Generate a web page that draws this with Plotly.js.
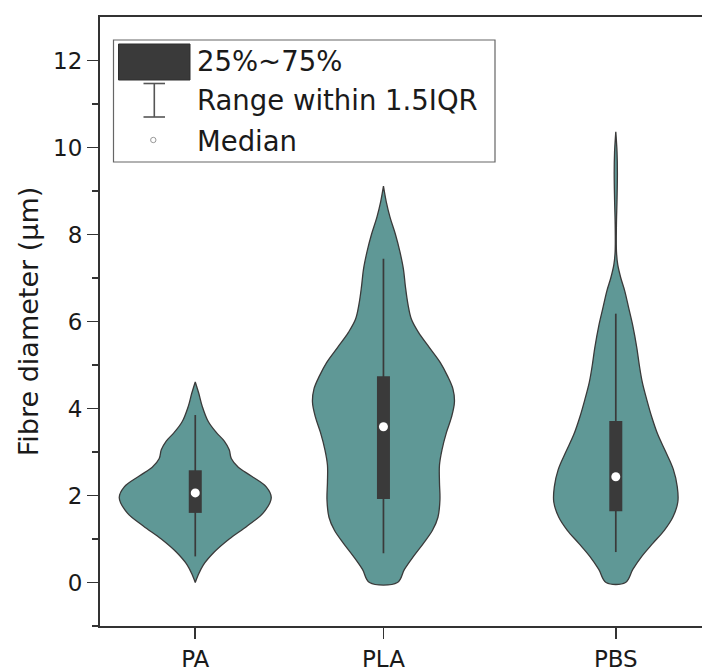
<!DOCTYPE html>
<html><head><meta charset="utf-8">
<script src="https://cdn.plot.ly/plotly-3.0.1.min.js"></script>
<style>html,body{margin:0;padding:0;background:#fff}#chart{width:702px;height:668px}</style>
</head><body><div id="chart"></div>
<script>
// ---------------- data ----------------
const categories = ['PA', 'PLA', 'PBS'];

// violin outlines: fibre diameter (µm) and relative density (1 = widest point of PA)
const paY       = [0, 0.15, 0.40, 0.70, 1.00, 1.30, 1.60, 1.95, 2.20, 2.45, 2.65, 2.85, 3.05, 3.25, 3.45, 3.70, 4.05, 4.35, 4.61];
const paDensity = [0, 0.033, 0.105, 0.25, 0.447, 0.684, 0.895, 1.0, 0.934, 0.737, 0.566, 0.474, 0.447, 0.382, 0.276, 0.171, 0.092, 0.046, 0];

const plaY       = [0, 0.3, 0.6, 0.9, 1.2, 1.5, 1.9, 2.3, 2.7, 3.05, 3.45, 3.8, 4.15, 4.45, 4.75, 5.05, 5.4, 5.75, 6.05, 6.4, 6.8, 7.2, 7.6, 8.0, 8.4, 8.75, 9.11];
const plaDensity = [0.184, 0.276, 0.395, 0.526, 0.645, 0.717, 0.743, 0.737, 0.737, 0.770, 0.829, 0.895, 0.934, 0.914, 0.842, 0.75, 0.605, 0.461, 0.368, 0.322, 0.289, 0.263, 0.217, 0.158, 0.086, 0.037, 0];

const pbsY       = [0, 0.3, 0.6, 0.9, 1.2, 1.5, 1.85, 2.2, 2.6, 3.0, 3.4, 3.8, 4.2, 4.6, 5.0, 5.4, 5.9, 6.3, 6.7, 7.0, 7.3, 7.6, 8.2, 8.8, 9.4, 9.9, 10.36];
const pbsDensity = [0.128, 0.224, 0.342, 0.487, 0.638, 0.75, 0.816, 0.809, 0.757, 0.658, 0.553, 0.474, 0.408, 0.349, 0.309, 0.276, 0.224, 0.171, 0.118, 0.066, 0.026, 0.009, 0.008, 0.016, 0.021, 0.016, 0];

// box statistics
const q1            = [1.60, 1.92, 1.64];
const medians       = [2.06, 3.58, 2.43];
const q3            = [2.58, 4.74, 3.71];
const lowerWhiskers = [0.60, 0.67, 0.70];
const upperWhiskers = [3.85, 7.44, 6.18];

const yTickVals = [0, 2, 4, 6, 8, 10, 12];
const yMinorVals = [-1, 1, 3, 5, 7, 9, 11];
const legendLabels = ['25%~75%', 'Range within 1.5IQR', 'Median'];
const yTitle = 'Fibre diameter (μm)';

// ---------------- layout / style ----------------
const W = 702, H = 668;
const M = {l: 100, r: 0, t: 17, b: 42};
const catPos = [1, 1.81, 2.81];          // horizontal centres of the groups
const xRange = [0.59, 3.181];
const yRange = [-1, 13];
const pxPerX = (W - M.l - M.r) / (xRange[1] - xRange[0]);
const violinMaxHalf = 76 / pxPerX;       // half width for density 1
const FONT = 'DejaVu Sans';
const violinFill = '#5f9896';
const outline = '#3a3a3a';
const boxColor = '#3a3a3a';

const violinSets = [[paY, paDensity], [plaY, plaDensity], [pbsY, pbsDensity]];

const traces = [];
violinSets.forEach(([ys, ds], i) => {
  const c = catPos[i];
  const xs = [], yy = [];
  for (let k = 0; k < ys.length; k++) { xs.push(c + ds[k] * violinMaxHalf); yy.push(ys[k]); }
  for (let k = ys.length - 1; k >= 0; k--) { xs.push(c - ds[k] * violinMaxHalf); yy.push(ys[k]); }
  xs.push(xs[0]); yy.push(yy[0]);
  traces.push({
    type: 'scatter', mode: 'lines', x: xs, y: yy,
    fill: 'toself', fillcolor: violinFill,
    line: {color: outline, width: 1.3, shape: 'spline', smoothing: 1},
    hoverinfo: 'skip', showlegend: false, name: categories[i]
  });
});

// whiskers (range within 1.5 IQR)
const wx = [], wy = [];
catPos.forEach((c, i) => { wx.push(c, c, null); wy.push(lowerWhiskers[i], upperWhiskers[i], null); });
traces.push({type: 'scatter', mode: 'lines', x: wx, y: wy,
  line: {color: boxColor, width: 1.7}, hoverinfo: 'skip', showlegend: false});

// 25%~75% boxes as thick bars
const bx = [], by = [];
catPos.forEach((c, i) => { bx.push(c, c, null); by.push(q1[i], q3[i], null); });
traces.push({type: 'scatter', mode: 'lines', x: bx, y: by,
  line: {color: boxColor, width: 13}, hoverinfo: 'skip', showlegend: false});

// medians
traces.push({
  type: 'scatter', mode: 'markers', x: catPos, y: medians,
  marker: {color: '#ffffff', size: 9, line: {width: 0}},
  hoverinfo: 'skip', showlegend: false
});

// legend drawn with shapes/annotations in pixel-derived paper coords
const px = v => (v - M.l) / (W - M.l - M.r);
const py = v => (H - M.b - v) / (H - M.t - M.b);

const shapes = [
  {type: 'rect', xref: 'paper', yref: 'paper', x0: px(113.5), x1: px(495), y0: py(40), y1: py(162),
   line: {color: '#666', width: 1.2}, fillcolor: '#fff', layer: 'above'},
  {type: 'rect', xref: 'paper', yref: 'paper', x0: px(118.5), x1: px(190), y0: py(44), y1: py(80),
   line: {color: '#2e2e2e', width: 1}, fillcolor: '#3a3a3a', layer: 'above'},
  {type: 'line', xref: 'paper', yref: 'paper', x0: px(154.3), x1: px(154.3), y0: py(83.5), y1: py(117),
   line: {color: '#555', width: 1.6}, layer: 'above'},
  {type: 'line', xref: 'paper', yref: 'paper', x0: px(143.5), x1: px(165), y0: py(83.5), y1: py(83.5),
   line: {color: '#555', width: 1.6}, layer: 'above'},
  {type: 'line', xref: 'paper', yref: 'paper', x0: px(143.5), x1: px(165), y0: py(117), y1: py(117),
   line: {color: '#555', width: 1.6}, layer: 'above'},
  {type: 'circle', xref: 'paper', yref: 'paper', x0: px(150.6), x1: px(156), y0: py(137.3), y1: py(142.7),
   line: {color: '#999', width: 1}, fillcolor: '#fff', layer: 'above'}
];

const legendY = [61, 100, 141];
const annotations = legendLabels.map((t, i) => ({
  text: t, xref: 'paper', yref: 'paper', x: px(195), y: py(legendY[i]),
  xanchor: 'left', yanchor: 'middle', showarrow: false,
  font: {family: FONT, size: 27.5, color: '#1a1a1a'}
}));

const axisCommon = {
  showline: true, linecolor: '#333', linewidth: 2,
  ticks: 'outside', ticklen: 11, tickwidth: 1.6, tickcolor: '#333',
  showgrid: false, zeroline: false,
  tickfont: {family: FONT, size: 23, color: '#1a1a1a'}
};

const layout = {
  width: W, height: H, margin: M,
  paper_bgcolor: '#fff', plot_bgcolor: '#fff',
  showlegend: false, hovermode: false,
  xaxis: Object.assign({}, axisCommon, {
    range: xRange, tickmode: 'array', tickvals: catPos, ticktext: categories, mirror: true
  }),
  yaxis: Object.assign({}, axisCommon, {
    range: yRange, tickmode: 'array', tickvals: yTickVals,
    minor: {ticks: 'outside', ticklen: 6, tickwidth: 1.6, tickcolor: '#333', tickvals: yMinorVals},
    title: {text: yTitle, font: {family: FONT, size: 27, color: '#1a1a1a'}, standoff: 7}
  }),
  shapes: shapes, annotations: annotations
};

Plotly.newPlot('chart', traces, layout, {displayModeBar: false, staticPlot: true});
</script>
</body></html>
